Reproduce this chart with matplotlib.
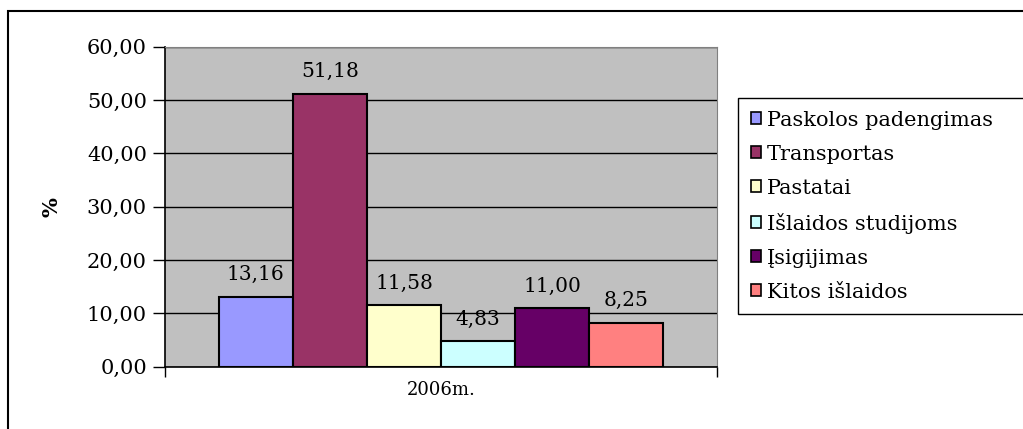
import numpy as np
import matplotlib
matplotlib.use("Agg")
import matplotlib.pyplot as plt
from matplotlib.patches import Rectangle

# expense shares for 2006, in percent
categories = ["Paskolos padengimas", "Transportas", "Pastatai",
              "Išlaidos studijoms", "Įsigijimas", "Kitos išlaidos"]
values = [13.16, 51.18, 11.58, 4.83, 11.00, 8.25]
colors = ["#9999FF", "#993366", "#FFFFCC", "#CCFFFF", "#660066", "#FF8080"]
group_label = "2006m."
y_ticks = [0, 10, 20, 30, 40, 50, 60]

plt.rcParams["font.family"] = ["DejaVu Serif"]

fig = plt.figure(figsize=(10.23, 4.29), dpi=100)
ax = fig.add_axes([0.1613, 0.1452, 0.5396, 0.7459])
ax.set_facecolor("#C0C0C0")

# bars side by side inside the single category
nBars = len(values)
barWidth = 0.806 / nBars
centers = 0.5 + (np.arange(nBars) - (nBars - 1) / 2) * barWidth
bars = ax.bar(centers, values, width=barWidth, color=colors,
              edgecolor="black", linewidth=1.5, zorder=3)
for b, v in zip(bars, values):
    ax.annotate(f"{v:.2f}".replace(".", ","),
                (b.get_x() + b.get_width() / 2, v),
                xytext=(0, 9), textcoords="offset points",
                ha="center", va="bottom", fontsize=14.5)

# axis settings
ax.set_xlim(0, 1)
ax.set_ylim(0, 60)
ax.set_yticks(y_ticks)
ax.set_yticklabels([f"{t:.2f}".replace(".", ",") for t in y_ticks])
ax.set_xticks([0, 1])
ax.set_xticklabels(["", ""])
ax.text(0.5, -0.045, group_label, transform=ax.transAxes,
        ha="center", va="top", fontsize=13)
ax.tick_params(axis="y", direction="out", length=9, width=1.0, labelsize=15, pad=4)
ax.tick_params(axis="x", direction="out", length=7, width=1.0)
ax.grid(axis="y", color="black", linewidth=1.0, zorder=1)
ax.set_axisbelow(True)
for side in ["top", "right"]:
    ax.spines[side].set_color("#808080")
for side in ["left", "bottom"]:
    ax.spines[side].set_color("black")
    ax.spines[side].set_linewidth(1.2)
ax.set_ylabel("%", fontsize=15, fontweight="bold", labelpad=18)

# legend box running off the right edge
leg = fig.legend(bars, categories, loc="upper left",
                 bbox_to_anchor=(738 / 1023, 1 - 98 / 429, 0.35, 0.0),
                 mode="expand", fontsize=15, frameon=True, fancybox=False,
                 edgecolor="black", framealpha=1.0, borderpad=0.6,
                 labelspacing=0.72, handlelength=0.5, handleheight=0.5,
                 handletextpad=0.3, borderaxespad=0.0)
leg.get_frame().set_linewidth(1.0)
for h in leg.legend_handles:
    h.set_linewidth(1.2)

# outer chart border
fig.patches.append(Rectangle((8 / 1023, -0.1), 1.2, 1 - 11 / 429 + 0.1,
                             transform=fig.transFigure, fill=False,
                             edgecolor="black", linewidth=1.5))

fig.savefig("out.png", dpi=100)
